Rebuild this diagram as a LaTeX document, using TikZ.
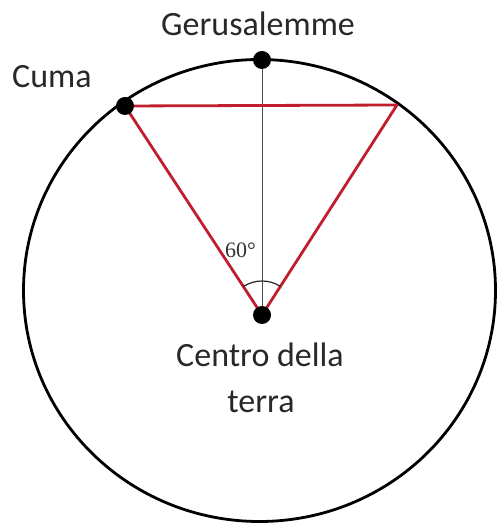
\documentclass[tikz,border=0pt]{standalone}
\usepackage{fontspec}
\setmainfont{Carlito}
\newfontfamily\degfont{Liberation Serif}
\definecolor{tri}{RGB}{192,30,45}
\definecolor{txt}{RGB}{40,40,40}
\tikzset{
  dot/.style={circle,fill=black,inner sep=0pt,minimum size=18pt},
  lbl/.style={text=txt,inner sep=0pt,font=\fontsize{34}{40}\selectfont},
  redline/.style={draw=tri,line width=2.8pt,line join=round},
}
\begin{document}
\begin{tikzpicture}[x=1pt,y=1pt]
\useasboundingbox (0,0) rectangle (496,524);
\draw[line width=2.8pt] (259.5,233.5) ellipse[x radius=236, y radius=231];
\coordinate (G) at (262,464);
\coordinate (Cu) at (125,418);
\coordinate (R) at (397,419);
\coordinate (C) at (262,209);
\draw[black!70,line width=0.9pt] (G) -- (C);
\draw[redline] (Cu) -- (R) -- (C) -- cycle;
\draw[black!85,line width=1.2pt] (C) ++(57:34) arc[start angle=57,end angle=123,radius=34];
\node[dot] (g) at (G) {};
\node[dot] (cu) at (Cu) {};
\node[dot] (c) at (C) {};
\node[lbl,anchor=base] (tg) at (258,488) {Gerusalemme};
\node[lbl,anchor=base west] (tcu) at (12,436) {Cuma};
\node[lbl,anchor=base] (tc1) at (260,157) {Centro della};
\node[lbl,anchor=base] (tc2) at (261,111) {terra};
\node[text=black!80,inner sep=0pt,anchor=base west,font=\degfont\fontsize{22}{26}\selectfont] (deg) at (225,266) {60°};
\end{tikzpicture}
\end{document}
